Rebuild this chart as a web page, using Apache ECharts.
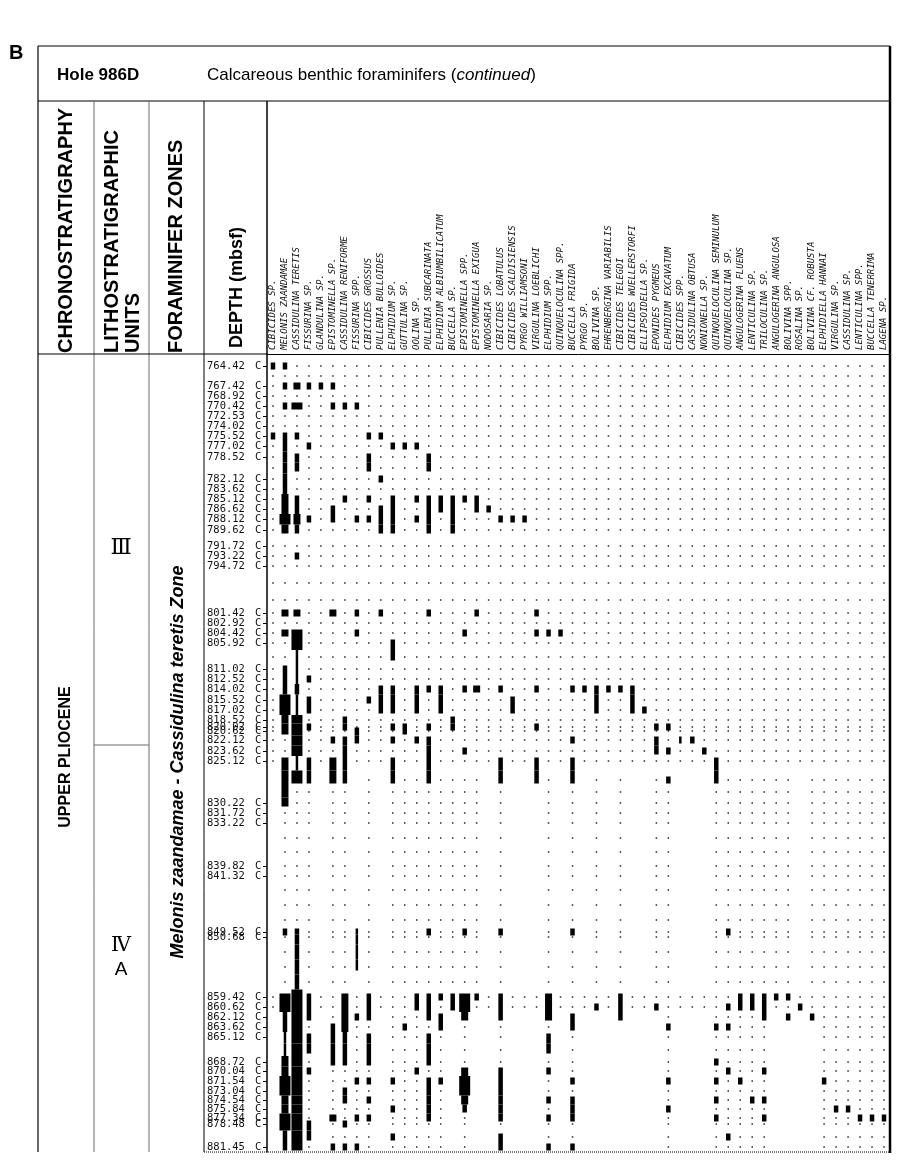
<!DOCTYPE html>
<html><head><meta charset="utf-8">
<script src="https://cdn.jsdelivr.net/npm/echarts@6/dist/echarts.min.js"></script>
<style>html,body{margin:0;padding:0;background:#fff}#c{width:913px;height:1163px}</style>
</head><body><div id="c"></div>
<script>
// ---------- DATA ----------
const species = ["CIBICIDES SP.","MELONIS ZAANDAMAE","CASSIDULINA TERETIS","FISSURINA SP.","GLANDULINA SP.","EPISTOMINELLA SP.","CASSIDULINA RENIFORME","FISSURINA SPP.","CIBICIDES GROSSUS","PULLENIA BULLOIDES","ELPHIDIUM SP.","GUTTULINA SP.","OOLINA SP.","PULLENIA SUBCARINATA","ELPHIDIUM ALBIUMBILICATUM","BUCCELLA SP.","EPISTOMINELLA SPP.","EPISTOMINELLA EXIGUA","NODOSARIA SP.","CIBICIDES LOBATULUS","CIBICIDES SCALDISIENSIS","PYRGO WILLIAMSONI","VIRGULINA LOEBLICHI","ELPHIDIUM SPP.","QUINQUELOCULINA SPP.","BUCCELLA FRIGIDA","PYRGO SP.","BOLIVINA SP.","EHRENBERGINA VARIABILIS","CIBICIDES TELEGDI","CIBICIDES WUELLERSTORFI","ELLIPSOIDELLA SP.","EPONIDES PYGMEUS","ELPHIDIUM EXCAVATUM","CIBICIDES SPP.","CASSIDULINA OBTUSA","NONIONELLA SP.","QUINQUELOCULINA SEMINULUM","QUINQUELOCULINA SP.","ANGULOGERINA FLUENS","LENTICULINA SP.","TRILOCULINA SP.","ANGULOGERINA ANGULOSA","BOLIVINA SPP.","ROSALINA SP.","BOLIVINA CF. ROBUSTA","ELPHIDIELLA HANNAI","VIRGULINA SP.","CASSIDULINA SP.","LENTICULINA SPP.","BUCCELLA TENERRIMA","LAGENA SP."];

// sample depth labels (blank = unlabelled sample row)
const depthLabels = ["764.42","765.92","767.42","768.92","770.42","772.53","774.02","775.52","777.02","778.52","",
"782.12","783.62","785.12","786.62","788.12","789.62","791.72","793.22","794.72","","",
"801.42","802.92","804.42","805.92","","811.02","812.52","814.02","815.52","817.02","818.52","820.02","820.62",
"822.12","823.62","825.12","","","830.22","831.72","833.22","","","839.82","841.32","","","",
"849.52","850.68","","","","859.42","860.62","862.12","863.62","865.12","",
"868.72","870.04","871.54","873.04","874.54","875.84","877.34","878.48","879.93","881.45"];

// sample slot along the depth column (sample order with plotted spacing)
const samplePos = [0,1,2,3,4,5,6,7,8,9.1,10.2,
11.3,12.3,13.3,14.3,15.3,16.4,18,19,20,21.7,23.4,
24.7,25.7,26.7,27.7,29.1,30.3,31.3,32.3,33.4,34.4,35.4,36.1,36.5,
37.4,38.5,39.5,41.4,42.6,43.7,44.7,45.7,47.2,48.6,50,51,52.4,53.9,55.4,
56.6,57.1,58.6,60.1,61.6,63.1,64.1,65.1,66.1,67.1,68.4,
69.6,70.5,71.5,72.5,73.4,74.3,75.2,75.8,77.1,78.1];

// occurrences per species: [firstSample, lastSample, abundanceClass 1..4]
const occurrences = [
 [[0,0,2],[7,7,2]],
 [[0,0,2],[2,2,2],[4,4,2],[7,12,2],[13,14,3],[15,15,4],[16,16,3],[22,22,3],[24,24,3],[27,29,2],[30,31,4],[32,34,3],[37,40,3],[50,50,2],[55,56,4],[57,58,2],[59,60,1],[61,62,3],[63,64,4],[65,66,3],[67,68,4],[69,70,2]],
 [[2,2,3],[4,4,4],[7,7,2],[9,10,2],[13,14,2],[15,15,3],[16,16,2],[18,18,2],[22,22,3],[24,25,4],[26,28,1],[29,29,2],[30,31,1],[32,36,4],[37,37,1],[38,38,4],[50,54,2],[55,70,4]],
 [[2,2,2],[8,8,2],[15,15,2],[28,28,2],[30,31,2],[33,33,2],[37,38,2],[55,57,2],[59,60,2],[62,62,2],[68,69,2]],
 [[2,2,2]],
 [[2,2,2],[4,4,2],[14,15,2],[22,22,3],[35,35,2],[37,38,3],[58,61,2],[67,67,3],[70,70,2]],
 [[4,4,2],[13,13,2],[32,33,2],[35,38,2],[55,56,3],[57,58,3],[59,61,2],[64,65,2],[68,68,2],[70,70,2]],
 [[4,4,2],[15,15,2],[22,22,2],[24,24,2],[34,35,2],[50,53,1],[57,57,2],[63,63,2],[67,67,2],[70,70,2]],
 [[7,7,2],[9,10,2],[13,13,2],[15,15,2],[30,30,2],[55,57,2],[59,61,2],[63,63,2],[65,65,2],[67,67,2]],
 [[7,7,2],[11,11,2],[14,16,2],[22,22,2],[29,31,2]],
 [[8,8,2],[13,16,2],[25,26,2],[29,31,2],[33,33,2],[35,35,2],[37,38,2],[63,63,2],[66,66,2],[69,69,2]],
 [[8,8,2],[33,34,2],[58,58,2]],
 [[8,8,2],[13,13,2],[15,15,2],[29,31,2],[35,35,2],[55,56,2],[62,62,2]],
 [[9,10,2],[13,16,2],[22,22,2],[29,29,2],[33,33,2],[35,38,2],[50,50,2],[55,57,2],[59,61,2],[63,67,2]],
 [[13,14,2],[29,31,2],[55,55,2],[57,58,2],[63,63,2]],
 [[13,16,2],[32,33,2],[55,56,2]],
 [[13,13,2],[24,24,2],[29,29,2],[36,36,2],[50,50,2],[55,56,4],[57,57,3],[62,62,3],[63,64,4],[65,65,3],[66,66,2]],
 [[13,14,2],[22,22,2],[29,29,3],[55,55,2]],
 [[14,14,2]],
 [[15,15,2],[29,29,2],[37,38,2],[50,50,2],[55,57,2],[62,67,2],[69,70,2]],
 [[15,15,2],[30,31,2]],
 [[15,15,2]],
 [[22,22,2],[24,24,2],[29,29,2],[33,33,2],[37,38,2]],
 [[24,24,2],[55,57,3],[59,60,2],[62,62,2],[65,65,2],[67,67,2],[70,70,2]],
 [[24,24,2]],
 [[29,29,2],[35,35,2],[37,38,2],[50,50,2],[57,58,2],[63,63,2],[65,67,2],[70,70,2]],
 [[29,29,2]],
 [[29,31,2],[56,56,2]],
 [[29,29,2]],
 [[29,29,2],[55,57,2]],
 [[29,31,2]],
 [[31,31,2]],
 [[33,33,2],[35,36,2],[56,56,2]],
 [[33,33,2],[36,36,2],[38,38,2],[58,58,2],[63,63,2],[66,66,2]],
 [[35,35,1]],
 [[35,35,2]],
 [[36,36,2]],
 [[37,38,2],[58,58,2],[61,61,2],[63,63,2],[65,65,2],[67,67,2]],
 [[50,50,2],[56,56,2],[58,58,2],[62,62,2],[69,69,2]],
 [[55,56,2],[63,63,2]],
 [[55,56,2],[65,65,2]],
 [[55,57,2],[62,62,2],[65,65,2],[67,67,2]],
 [[55,55,2]],
 [[55,55,2],[57,57,2]],
 [[56,56,2]],
 [[57,57,2]],
 [[63,63,2]],
 [[66,66,2]],
 [[66,66,2]],
 [[67,67,2]],
 [[67,67,2]],
 [[67,67,2]]
];

// sample rows in which some species were not examined (no dot drawn)
const midRows = [38, 54];
const midNoDotCols = [0,4,7,9,18,20,21,22,24,26,28,30,31,34,35,36,44];
const lowRows = [57, 70];
const lowNoDotCols = [0,4,9,15,17,18,20,21,22,24,26,27,28,29,30,31,32,34,35,36,42,43,44,45];

// ---------- BUILD ----------
const nS = species.length, nR = samplePos.length;
const occ = species.map(() => new Array(nR).fill(0));
occurrences.forEach((list, s) => list.forEach(r => { for (let k = r[0]; k <= r[1]; k++) occ[s][k] = r[2]; }));
const markData = [];
for (let s = 0; s < nS; s++) for (let k = 0; k < nR; k++) if (occ[s][k]) {
  const prev = (k > 0 && occ[s][k-1]) ? samplePos[k-1] : -99;
  const next = (k < nR-1 && occ[s][k+1]) ? samplePos[k+1] : -99;
  markData.push([s, samplePos[k], occ[s][k], prev, next]);
}
const dotData = [];
for (let k = 0; k < nR; k++) for (let s = 0; s < nS; s++) {
  if (occ[s][k]) continue;
  if (k >= midRows[0] && k <= midRows[1] && midNoDotCols.includes(s)) continue;
  if (k >= lowRows[0] && k <= lowRows[1] && lowNoDotCols.includes(s)) continue;
  dotData.push([s, samplePos[k]]);
}
const labelled = [];
depthLabels.forEach((d, k) => { if (d) labelled.push(samplePos[k]); });
function labelFor(v) {
  for (let k = 0; k < nR; k++) if (Math.abs(samplePos[k] - v) < 1e-6) return depthLabels[k];
  return '';
}
const widths = [0, 2.5, 4.5, 7, 11];

const chart = echarts.init(document.getElementById('c'), null, {renderer: 'canvas'});
const K = '#000', G = '#6a6a6a';
function L(x1, y1, x2, y2, w, c, dash) {
  return {type: 'line', silent: true, shape: {x1, y1, x2, y2}, style: {stroke: c || K, lineWidth: w || 1, lineDash: dash || null}};
}
function T(text, x, y, o) {
  return Object.assign({type: 'text', silent: true, x, y, style: Object.assign({text, fill: K, fontFamily: 'Liberation Sans, Arial, sans-serif', align: 'left', verticalAlign: 'middle'}, o.style || {})}, o.el || {});
}
const R = Math.PI / 2;
const graphics = [
  L(38, 46, 890, 46, 1.2), L(38, 46, 38, 1152, 1.2), L(38, 101, 890, 101, 1.2),
  L(890, 46, 890, 1153, 2.5),
  L(94, 101, 94, 1152, 1, G), L(149, 101, 149, 1152, 1, G), L(204, 101, 204, 1152, 1),
  L(267, 101, 267, 354, 1.5), L(38, 354, 267, 354, 1),
  L(94, 745, 149, 745, 1, G),
  L(204, 1152, 890, 1152, 1, K, [1, 1]),
  T('B', 9, 53, {style: {fontSize: 20, fontWeight: 'bold'}}),
  T('Hole 986D', 57, 75, {style: {fontSize: 17, fontWeight: 'bold'}}),
  T('{n|Calcareous benthic foraminifers (}{i|continued}{n|)}', 207, 75, {style: {rich: {n: {fontSize: 17, fontFamily: 'Liberation Sans, Arial, sans-serif'}, i: {fontSize: 17, fontStyle: 'italic', fontFamily: 'Liberation Sans, Arial, sans-serif'}}}}),
  T('CHRONOSTRATIGRAPHY', 66, 353, {style: {fontSize: 20, fontWeight: 'bold'}, el: {rotation: R}}),
  T('LITHOSTRATIGRAPHIC', 112, 353, {style: {fontSize: 20, fontWeight: 'bold'}, el: {rotation: R}}),
  T('UNITS', 133, 353, {style: {fontSize: 20, fontWeight: 'bold'}, el: {rotation: R}}),
  T('FORAMINIFER ZONES', 176, 353, {style: {fontSize: 20, fontWeight: 'bold'}, el: {rotation: R}}),
  T('DEPTH (mbsf)', 237, 348, {style: {fontSize: 18, fontWeight: 'bold'}, el: {rotation: R}}),
  T('UPPER PLIOCENE', 66, 757, {style: {fontSize: 16, fontWeight: 'bold', align: 'center'}, el: {rotation: R}}),
  T('Ⅲ', 121, 548, {style: {fontSize: 22, fontFamily: 'DejaVu Serif, Liberation Serif, serif', align: 'center'}}),
  T('Ⅳ', 121, 946, {style: {fontSize: 20, fontFamily: 'DejaVu Serif, Liberation Serif, serif', align: 'center'}}),
  T('A', 121, 970, {style: {fontSize: 19, align: 'center'}}),
  T('Melonis zaandamae - Cassidulina teretis Zone', 178, 762, {style: {fontSize: 18, fontWeight: 'bold', fontStyle: 'italic', align: 'center'}, el: {rotation: R}})
];

chart.setOption({
  animation: false,
  backgroundColor: '#fff',
  grid: {left: 267, top: 354, width: 623, height: 798, containLabel: false},
  xAxis: {
    type: 'category', data: species, position: 'top', boundaryGap: true,
    axisLine: {show: true, onZero: false, lineStyle: {color: K, width: 1}},
    axisTick: {show: false}, splitLine: {show: false},
    axisLabel: {interval: 0, rotate: -90, margin: 4, fontSize: 9, fontStyle: 'italic', fontFamily: 'DejaVu Sans Mono, Liberation Mono, monospace', color: '#111'}
  },
  yAxis: {
    type: 'value', inverse: true, min: -1.2, max: 78.6,
    axisLine: {show: true, onZero: false, lineStyle: {color: K, width: 1.5}},
    splitLine: {show: false},
    axisTick: {show: true, customValues: labelled, length: 4, lineStyle: {color: K, width: 1}},
    axisLabel: {
      customValues: labelled, margin: 5, hideOverlap: false, showMinLabel: true, showMaxLabel: true,
      formatter: v => '{d|' + labelFor(v) + '}{c|C}',
      rich: {
        d: {width: 48, align: 'left', fontSize: 10.5, fontFamily: 'DejaVu Sans Mono, Liberation Mono, monospace', color: '#111'},
        c: {width: 7, align: 'left', fontSize: 10.5, fontFamily: 'DejaVu Sans Mono, Liberation Mono, monospace', color: '#111'}
      }
    }
  },
  series: [
    {type: 'scatter', data: dotData, symbol: 'rect', symbolSize: [1.5, 2], itemStyle: {color: '#333'}, silent: true, z: 2},
    {type: 'custom', data: markData, silent: true, z: 3, encode: {x: 0, y: 1},
     renderItem: function (params, api) {
       const s = api.value(0), pos = api.value(1), ab = api.value(2), prev = api.value(3), next = api.value(4);
       const c = api.coord([s, pos]);
       let top = c[1] - 3.5, bot = c[1] + 3.5;
       if (prev > -50) top = (api.coord([s, prev])[1] + c[1]) / 2;
       if (next > -50) bot = (api.coord([s, next])[1] + c[1]) / 2;
       const w = widths[ab];
       return {type: 'rect', shape: {x: c[0] - w / 2, y: top, width: w, height: bot - top}, style: {fill: K}};
     }}
  ],
  graphic: graphics
});
</script>
</body></html>
